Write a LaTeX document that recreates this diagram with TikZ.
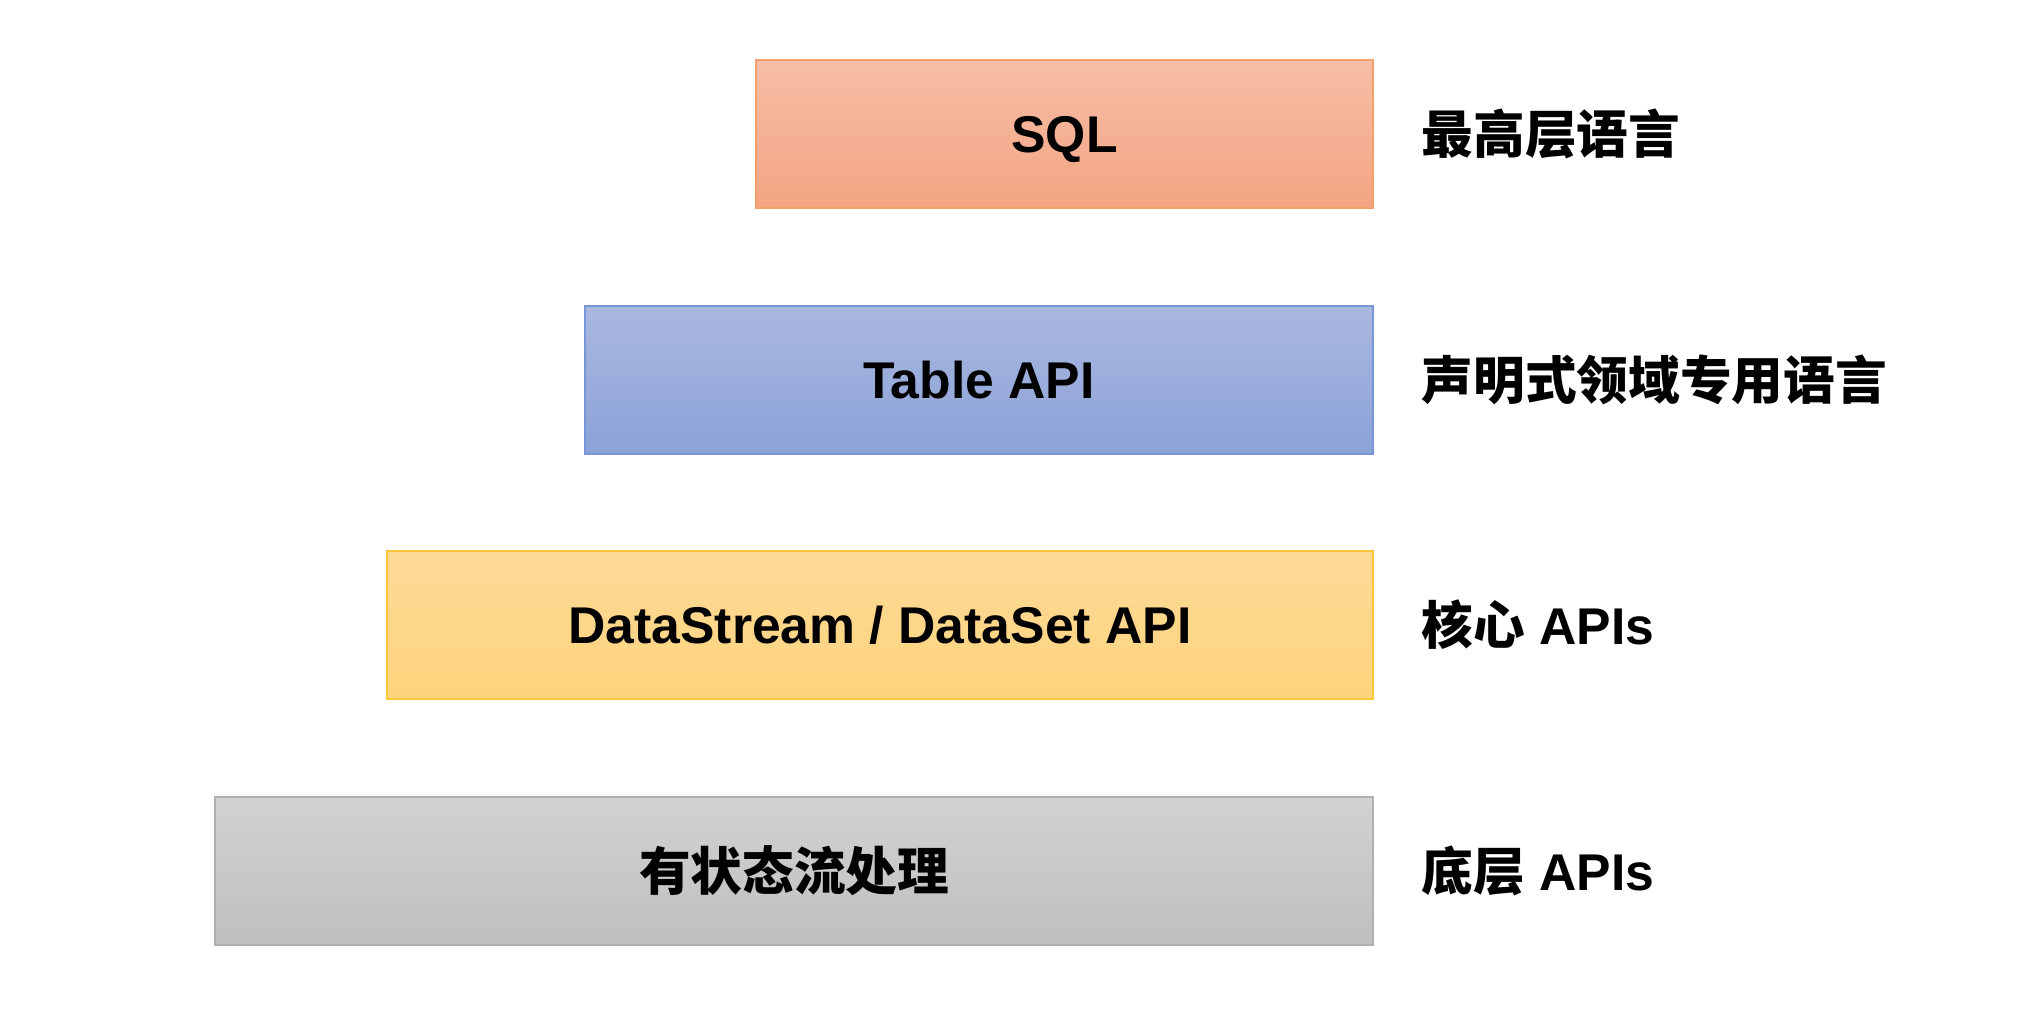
\documentclass[tikz,border=0pt]{standalone}
\usepackage{fontspec}
\setmainfont{Liberation Sans}
\newfontfamily\cjk{Noto Sans CJK SC}
\usetikzlibrary{positioning}
\definecolor{sqltop}{HTML}{F6BDA6}
\definecolor{sqlbottom}{HTML}{F4A583}
\definecolor{sqlborder}{HTML}{F4A06C}
\definecolor{tabletop}{HTML}{AAB8E0}
\definecolor{tablebottom}{HTML}{8BA2D8}
\definecolor{tableborder}{HTML}{7896D6}
\definecolor{coretop}{HTML}{FEDA98}
\definecolor{corebottom}{HTML}{FED37C}
\definecolor{coreborder}{HTML}{FDC73A}
\definecolor{lowtop}{HTML}{D2D2D2}
\definecolor{lowbottom}{HTML}{BFBFBF}
\definecolor{lowborder}{HTML}{B0B0B0}

\begin{document}
\begin{tikzpicture}
		\tikzstyle{layer} = [rectangle, draw, line width = 0.6pt, align = center, minimum height = 14.8mm, inner sep = 0mm, font = \fontsize{14.7}{17}\selectfont\bfseries];
		\tikzstyle{note} = [inner sep = 0mm, font = \fontsize{14.7}{17}\selectfont\bfseries];
		\useasboundingbox (0,0) rectangle (20.17,-10.14);
		\node (sql) at (10.645,-1.34) [layer, text depth = 0pt, minimum width = 61.7mm, draw = sqlborder, top color = sqltop, bottom color = sqlbottom] {SQL};
		\node (table) at (9.79,-3.80) [layer, minimum width = 78.8mm, draw = tableborder, top color = tabletop, bottom color = tablebottom] {Table API};
		\node (core) at (8.80,-6.25) [layer, minimum width = 98.6mm, draw = coreborder, top color = coretop, bottom color = corebottom] {DataStream / DataSet API};
		\node (low) at (7.94,-8.71) [layer, minimum width = 115.8mm, draw = lowborder, top color = lowtop, bottom color = lowbottom] {\cjk 有状态流处理};
		\node (sqlnote) [note, right=4.7mm of sql] {\cjk 最高层语言};
		\node (tablenote) [note, right=4.7mm of table] {\cjk 声明式领域专用语言};
		\node (corenote) [note, right=4.7mm of core] {{\cjk 核心} APIs};
		\node (lownote) [note, right=4.7mm of low] {{\cjk 底层} APIs};
	\end{tikzpicture}
\end{document}
